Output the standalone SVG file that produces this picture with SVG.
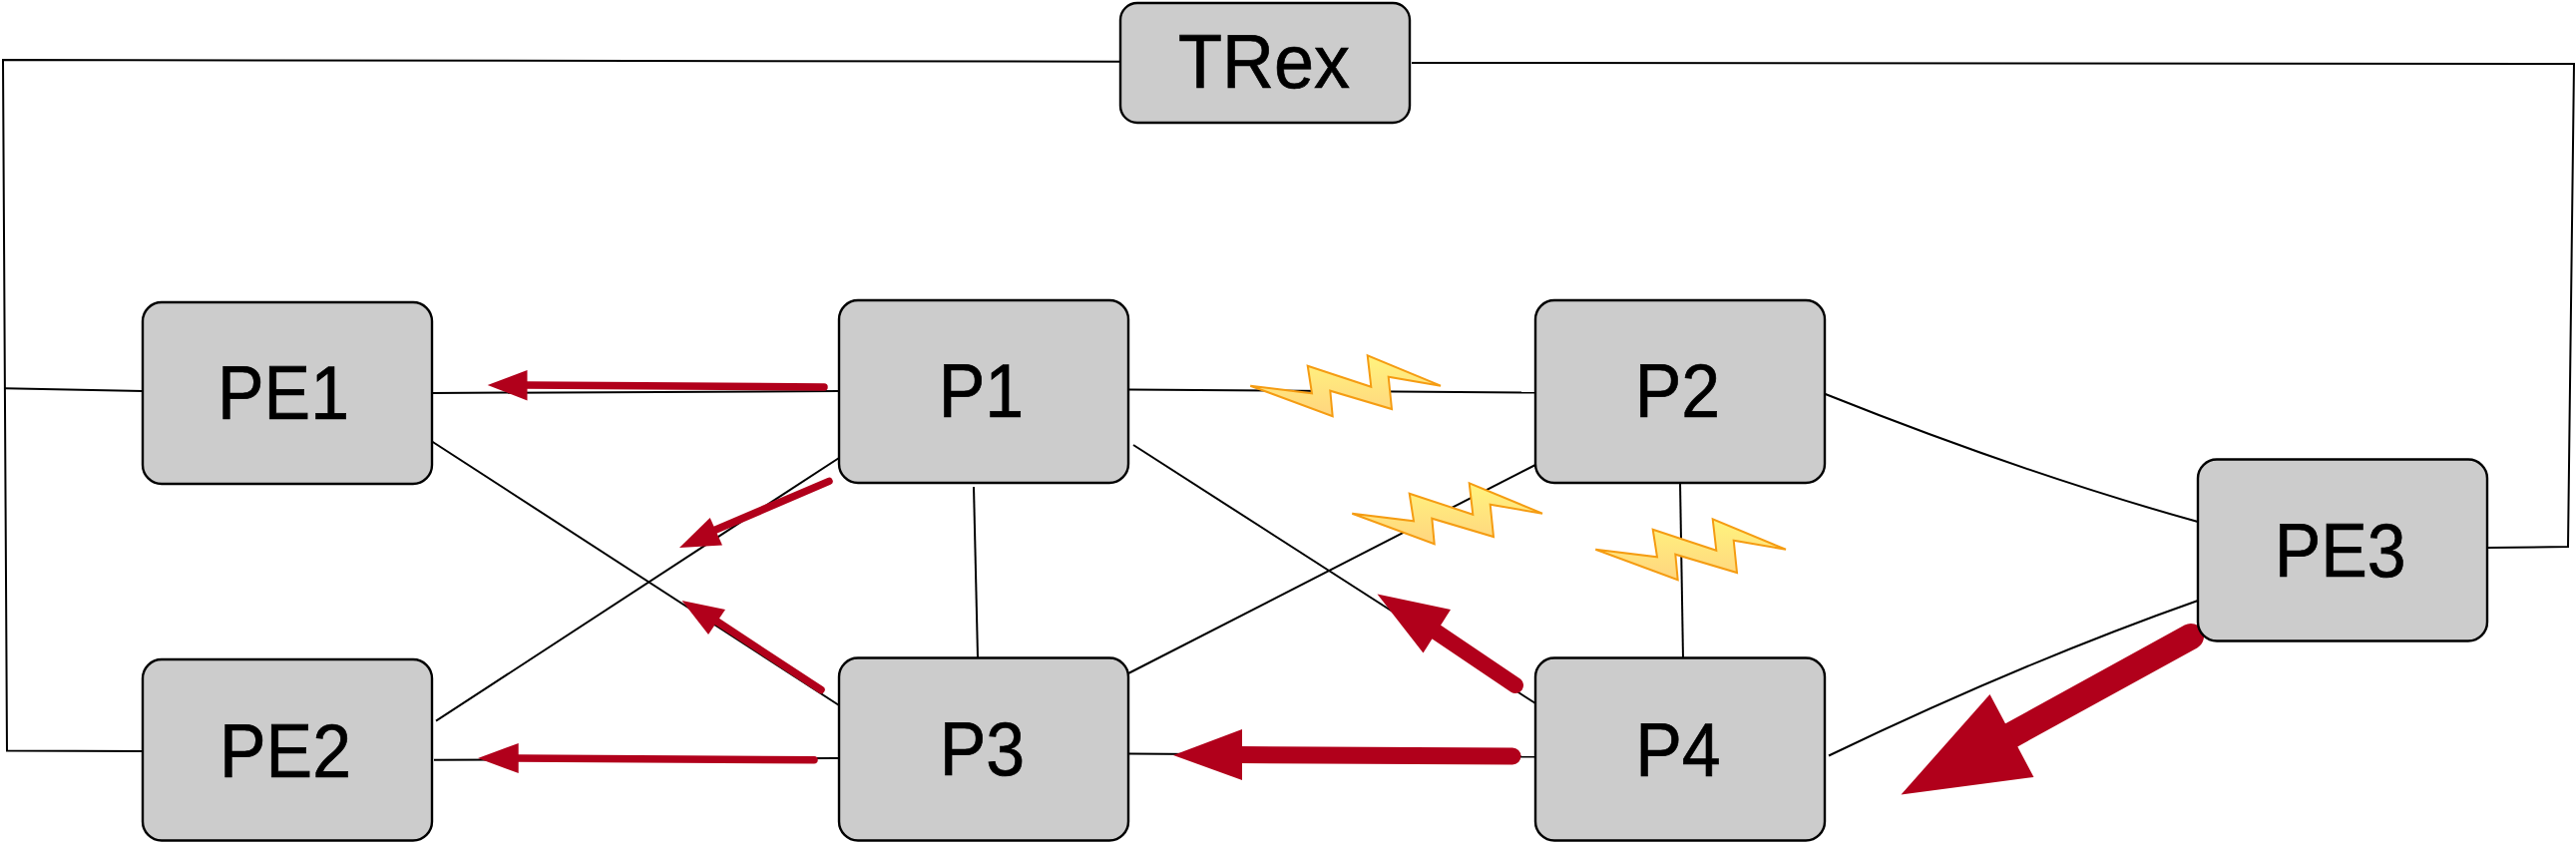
<svg xmlns="http://www.w3.org/2000/svg" width="2582" height="846" viewBox="0 0 2582 846">
<style>
.n{fill:#ccc;stroke:#000;stroke-width:2.4}
.t{font-family:"Liberation Sans",Arial,sans-serif;font-size:76px;fill:#000;stroke:#000;stroke-width:.7;text-anchor:middle}
.c{fill:none;stroke:#000;stroke-width:2}
.a{fill:#b1001b}
.s{fill:none;stroke:#b1001b;stroke-linecap:round}
.f{fill:url(#g);stroke:#f59c12;stroke-width:2}
</style>
<defs>
<linearGradient id="g" x1="0" y1="0" x2="0" y2="1"><stop offset="0" stop-color="#fff47e"/><stop offset="1" stop-color="#ffd57f"/></linearGradient>
<polygon id="flash" class="f" points="1253.3,386.7 1315,394.3 1310.7,366.7 1374.3,387.7 1370.7,356.3 1444,386.7 1391.7,377.7 1395,410 1333.3,391.7 1335.7,417.3"/>
</defs>
<rect width="2582" height="846" fill="#fff"/>
<g id="connectors">
<path class="c" d="M1122,61.7 L3,60 L7,752.5 L143,753"/>
<path class="c" d="M5,389.3 L143,392"/>
<path class="c" d="M1415,63 L2580,64 L2574,548 L2492,549"/>
<path class="c" d="M433,394 L841,392"/>
<path class="c" d="M433,442.5 L841,707"/>
<path class="c" d="M437,722.7 L841,459"/>
<path class="c" d="M976,488 L980,659"/>
<path class="c" d="M435,761.7 L841,760"/>
<path class="c" d="M1131,390.5 L1539,393.5"/>
<path class="c" d="M1136,446 L1539,705"/>
<path class="c" d="M1131,675 L1539,466"/>
<path class="c" d="M1684,483 L1687,660"/>
<path class="c" d="M1131,755.5 L1539,758.5"/>
<path class="c" d="M1829.6,395 Q2030,475 2203,523"/>
<path class="c" d="M1833,757.5 Q2030,663 2203,602"/>
</g>
<g id="traffic">
<path class="s" stroke-width="7.5" d="M826,388 L525,386"/>
<polygon class="a" points="488.7,386 528.5,371 528.5,401.5"/>
<path class="s" stroke-width="7.5" d="M831,482.4 L715,532"/>
<polygon class="a" points="681,549 711.7,519 724,546.6"/>
<path class="s" stroke-width="7.5" d="M823,691.5 L715,620.5"/>
<polygon class="a" points="683.5,602 727,611 710,636"/>
<path class="s" stroke-width="7.5" d="M816,761.7 L516,760"/>
<polygon class="a" points="479,760 519.7,745 519.7,775"/>
<path class="s" stroke-width="16" d="M1519,687 L1436,631"/>
<polygon class="a" points="1380.5,595.5 1454,611 1426.5,654.5"/>
<path class="s" stroke-width="17" d="M1516,758 L1240,756.5"/>
<polygon class="a" points="1176,757 1245,731 1245,782"/>
<path class="s" stroke-width="26" d="M2196,638 L2016,737"/>
<polygon class="a" points="1905.5,796.5 1994.5,696 2038.5,779"/>
</g>
<g id="faults">
<use href="#flash"/>
<use href="#flash" transform="translate(102,128)"/>
<use href="#flash" transform="translate(346,164)"/>
</g>
<g id="TRex"><rect class="n" x="1123" y="3" width="290" height="120" rx="17"/><text class="t" x="1267" y="88" textLength="172" lengthAdjust="spacingAndGlyphs">TRex</text></g>
<g id="PE1"><rect class="n" x="143" y="303" width="290" height="182" rx="19"/><text class="t" x="284" y="420" textLength="132" lengthAdjust="spacingAndGlyphs">PE1</text></g>
<g id="P1"><rect class="n" x="841" y="301" width="290" height="183" rx="19"/><text class="t" x="983.5" y="418" textLength="85.5" lengthAdjust="spacingAndGlyphs">P1</text></g>
<g id="P2"><rect class="n" x="1539" y="301" width="290" height="183" rx="19"/><text class="t" x="1681.5" y="418" textLength="85.5" lengthAdjust="spacingAndGlyphs">P2</text></g>
<g id="PE2"><rect class="n" x="143" y="661" width="290" height="181.5" rx="19"/><text class="t" x="286" y="779" textLength="132" lengthAdjust="spacingAndGlyphs">PE2</text></g>
<g id="P3"><rect class="n" x="841" y="659.5" width="290" height="183" rx="19"/><text class="t" x="984.5" y="777" textLength="85.5" lengthAdjust="spacingAndGlyphs">P3</text></g>
<g id="P4"><rect class="n" x="1539" y="659.5" width="290" height="183" rx="19"/><text class="t" x="1682" y="778" textLength="85.5" lengthAdjust="spacingAndGlyphs">P4</text></g>
<g id="PE3"><rect class="n" x="2203" y="460.5" width="290" height="182" rx="19"/><text class="t" x="2345.7" y="578" textLength="132" lengthAdjust="spacingAndGlyphs">PE3</text></g>
</svg>
